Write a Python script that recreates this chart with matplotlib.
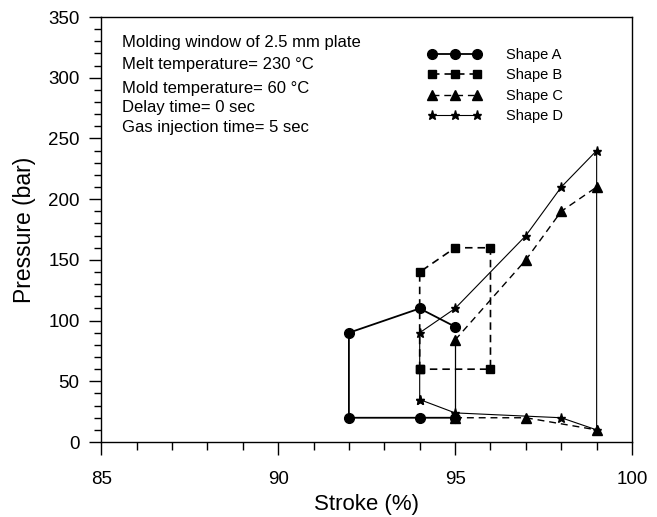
import matplotlib.pyplot as plt
from matplotlib.ticker import MultipleLocator

plt.rcParams['font.family'] = ['Liberation Sans', 'DejaVu Sans']

# ------------------ data ------------------
# Shape A (circles, solid)
a_x = [95, 94, 92, 92, 94, 95]
a_y = [95, 110, 90, 20, 20, 20]

# Shape B (squares, dashed, closed loop)
b_x = [94, 94, 95, 96, 96, 94]
b_y = [60, 140, 160, 160, 60, 60]

# Shape C (triangles, dashed) upper and lower boundaries
c_up_x = [95, 97, 98, 99]
c_up_y = [84, 150, 190, 210]
c_low_x = [95, 97, 99]
c_low_y = [20, 20, 10]

# Shape D (stars, thin solid, closed loop)
d_x = [94, 94, 95, 97, 98, 99, 99, 98, 95, 94]
d_y = [35, 90, 110, 170, 210, 240, 10, 20, 24, 35]

info_lines = [
    'Molding window of 2.5 mm plate',
    'Melt temperature= 230 \u00b0C',
    'Mold temperature= 60 \u00b0C',
    'Delay time= 0 sec',
    'Gas injection time= 5 sec',
]

fig = plt.figure(figsize=(6.57, 5.17), dpi=100)
ax = fig.add_axes([0.154, 0.145, 0.808, 0.822])

ax.plot(a_x, a_y, color='black', lw=1.3, marker='o', ms=7, label='Shape A')
ax.plot(b_x, b_y, color='black', lw=1.2, ls=(0, (4.5, 3)), marker='s', ms=5.5, label='Shape B')
ax.plot(c_up_x, c_up_y, color='black', lw=1.0, ls=(0, (5, 3.5)), marker='^', ms=6.5, label='Shape C')
ax.plot(c_low_x, c_low_y, color='black', lw=1.0, ls=(0, (5, 3.5)), marker='^', ms=6.5)
ax.plot([c_up_x[0], c_low_x[0]], [c_up_y[0], c_low_y[0]], color='black', lw=0.9)
ax.plot(d_x, d_y, color='black', lw=0.8, marker='*', ms=6.5, label='Shape D')

ax.set_xlim(85, 100)
ax.set_ylim(0, 350)
ax.xaxis.set_major_locator(MultipleLocator(5))
ax.xaxis.set_minor_locator(MultipleLocator(1))
ax.yaxis.set_major_locator(MultipleLocator(50))
ax.yaxis.set_minor_locator(MultipleLocator(10))
ax.tick_params(axis='x', which='major', direction='out', length=9.5, width=1, pad=11, labelsize=13.5)
ax.tick_params(axis='x', which='minor', direction='out', length=5.5, width=1)
ax.tick_params(axis='y', which='major', direction='out', length=8.5, width=1, pad=7, labelsize=13.5)
ax.tick_params(axis='y', which='minor', direction='out', length=5, width=1)
for s in ax.spines.values():
    s.set_linewidth(1.0)

ax.set_xlabel('Stroke (%)', fontsize=16, labelpad=5)
ax.set_ylabel('Pressure (bar)', fontsize=16.5, labelpad=9)

# parameter notes in the upper left
note_y = [0.944, 0.8925, 0.836, 0.7906, 0.7435]
for line, yy in zip(info_lines, note_y):
    ax.text(0.039, yy, line, transform=ax.transAxes, fontsize=12,
            va='center_baseline', ha='left')

ax.legend(loc='upper left', bbox_to_anchor=(0.615, 0.928), frameon=False,
          numpoints=3, handlelength=3.7, handletextpad=1.7, fontsize=10.5,
          labelspacing=0.45, borderpad=0, borderaxespad=0)

fig.savefig('out.png', dpi=100)
